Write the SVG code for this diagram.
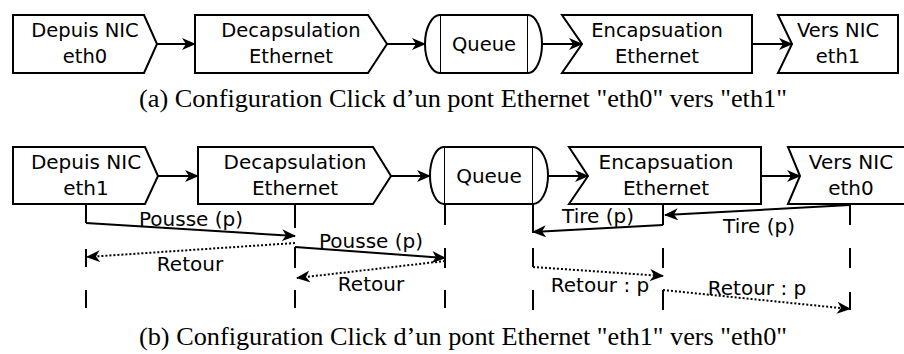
<svg xmlns="http://www.w3.org/2000/svg" width="904" height="354" viewBox="0 0 904 354">
<style>
.n{fill:#fff;stroke:#000;stroke-width:2;stroke-linejoin:miter}
.t{font-family:"DejaVu Sans",sans-serif;font-size:19.5px;text-anchor:middle;fill:#000}
.tb{font-size:20px}
.c{stroke:#000;stroke-width:2;fill:none}
.a{marker-end:url(#ah)}
.d{stroke-dasharray:2 2}
.cap{font-family:"Liberation Serif",serif;font-size:25px;fill:#000}
</style>
<defs>
<marker id="ah" viewBox="0 0 14 12" refX="13" refY="6" markerWidth="14" markerHeight="12" markerUnits="userSpaceOnUse" orient="auto">
<path d="M0,0 L14,6 L0,12 L4,6 Z" fill="#000"/>
</marker>
</defs>

<g id="a-depuis"><path class="n" d="M13,15 H144 L157,44 L144,73 H13 Z"/><text class="t" x="85" y="37">Depuis NIC</text><text class="t" x="85" y="63">eth0</text></g>
<g id="a-decap"><path class="n" d="M195,15 H368 L387,44 L368,73 H195 Z"/><text class="t" x="291" y="37">Decapsulation</text><text class="t" x="291" y="63">Ethernet</text></g>
<g id="a-queue"><rect class="n" x="440" y="15" width="88" height="58"/><path class="n" d="M440,15 A15,29 0 0 0 440,73"/><path class="n" d="M528,15 A14,29 0 0 1 528,73"/><text class="t" x="484" y="51">Queue</text></g>
<g id="a-encap"><path class="n" d="M562,15 H752 V73 H562 L582,44 Z"/><text class="t" x="657" y="37">Encapsuation</text><text class="t" x="657" y="63">Ethernet</text></g>
<g id="a-vers"><path class="n" d="M778,15 H898 V73 H778 L792,44 Z"/><text class="t" x="838" y="37">Vers NIC</text><text class="t" x="838" y="63">eth1</text></g>

<g id="b-depuis"><path class="n" d="M13,147 H145 L158,176 L145,204 H13 Z"/><text class="t tb" x="86" y="169">Depuis NIC</text><text class="t tb" x="86" y="195">eth1</text></g>
<g id="b-decap"><path class="n" d="M198,147 H373 L391,176 L373,204 H198 Z"/><text class="t tb" x="295" y="169">Decapsulation</text><text class="t tb" x="295" y="195">Ethernet</text></g>
<g id="b-queue"><rect class="n" x="444" y="147" width="89" height="57"/><path class="n" d="M444,147 A14,28.5 0 0 0 444,204"/><path class="n" d="M533,147 A15,28.5 0 0 1 533,204"/><text class="t tb" x="489" y="183">Queue</text></g>
<g id="b-encap"><path class="n" d="M569,147 H761 V204 H569 L588,176 Z"/><text class="t tb" x="666" y="169">Encapsuation</text><text class="t tb" x="666" y="195">Ethernet</text></g>
<g id="b-vers"><path class="n" d="M788,147 H914 V204 H788 L800,176 Z"/><text class="t tb" x="851" y="169">Vers NIC</text><text class="t tb" x="851" y="195">eth0</text></g>

<g id="connectors">
<line class="c a" x1="157" y1="44" x2="195" y2="44"/>
<line class="c a" x1="387" y1="44" x2="425" y2="44"/>
<line class="c a" x1="542" y1="44" x2="582" y2="44"/>
<line class="c a" x1="752" y1="44" x2="792" y2="44"/>

<line class="c a" x1="158" y1="176" x2="198" y2="176"/>
<line class="c a" x1="391" y1="176" x2="430" y2="176"/>
<line class="c a" x1="548" y1="176" x2="588" y2="176"/>
<line class="c a" x1="761" y1="176" x2="800" y2="176"/>

<path class="c" d="M86,204 V223 M86,249 V267 M86,290 V308"/>
<path class="c" d="M295,204 V228 M295,247 V268 M295,290 V308"/>
<path class="c" d="M445,204 V225 M445,248 V268 M445,290 V308"/>
<path class="c" d="M533,204 V233 M533,248 V267 M533,290 V310"/>
<path class="c" d="M663,204 V225 M663,248 V268 M663,290 V310"/>
<path class="c" d="M850,204 V225 M850,248 V268 M850,292 V310"/>

<line class="c a" x1="86" y1="223" x2="295" y2="236"/>
<line class="c a d" x1="295" y1="243" x2="87" y2="257"/>
<line class="c a" x1="295" y1="247" x2="445" y2="258"/>
<line class="c a d" x1="445" y1="261" x2="297" y2="278"/>
<line class="c a" x1="663" y1="225" x2="533" y2="232"/>
<line class="c a" x1="850" y1="205" x2="665" y2="215"/>
<line class="c a d" x1="533" y1="267" x2="663" y2="276"/>
<line class="c a d" x1="663" y1="290" x2="850" y2="309"/>
</g>

<g id="labels">
<text class="t tb" x="191" y="226">Pousse (p)</text>
<text class="t tb" x="190" y="271">Retour</text>
<text class="t tb" x="371" y="248">Pousse (p)</text>
<text class="t tb" x="371" y="291">Retour</text>
<text class="t tb" x="598" y="223">Tire (p)</text>
<text class="t tb" x="759" y="233">Tire (p)</text>
<text class="t tb" x="600" y="292">Retour : p</text>
<text class="t tb" x="757" y="295">Retour : p</text>
</g>

<text class="cap" x="139" y="107" textLength="648" lengthAdjust="spacingAndGlyphs">(a) Configuration Click d’un pont Ethernet "eth0" vers "eth1"</text>
<text class="cap" x="139" y="345" textLength="648" lengthAdjust="spacingAndGlyphs">(b) Configuration Click d’un pont Ethernet "eth1" vers "eth0"</text>
</svg>
